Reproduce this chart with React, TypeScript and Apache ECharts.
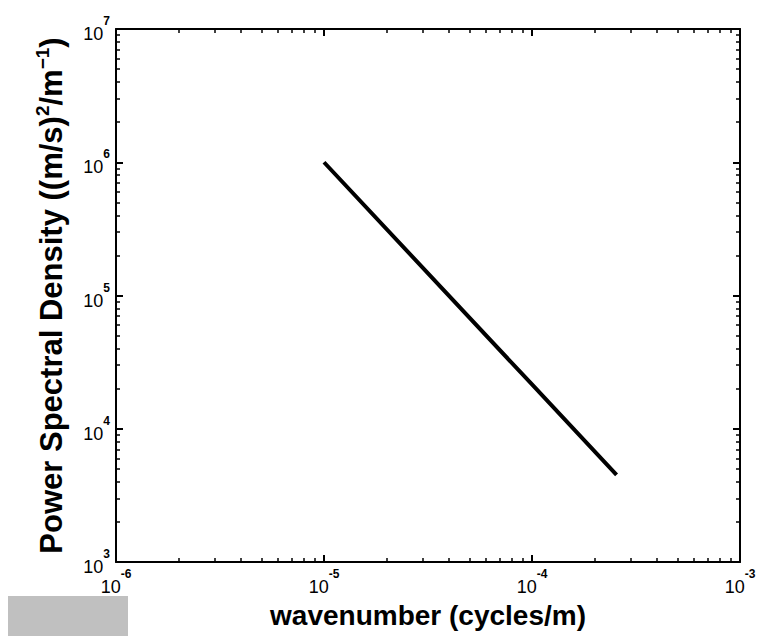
import React, { useEffect, useRef } from "react";
import * as echarts from "echarts";

// ---- data ----
const wavenumber = [1e-5, 1e-4, 2.55e-4];
const psd = [1.0e6, 2.15e4, 4.5e3];

const xMajorTicks = [1e-6, 1e-5, 1e-4, 1e-3];
const yMajorTicks = [1e3, 1e4, 1e5, 1e6, 1e7];
const minorMultipliers = [2, 3, 4, 5, 6, 7, 8, 9];

const xTitle = "wavenumber (cycles/m)";
const yTitle = "Power Spectral Density ((m/s){sup|2}/m{sup|−1})";

const FONT = "'Liberation Sans', Arial, Helvetica, sans-serif";

function minorsOf(majors: number[]) {
  const out: number[] = [];
  for (let i = 0; i < majors.length - 1; i++) {
    for (const m of minorMultipliers) out.push(Math.log10(majors[i] * m));
  }
  return out;
}

const labelFormatter = (v: number) => {
  const e = Math.round(Math.log10(v));
  return `{b|10}{e|${e < 0 ? "-" + Math.abs(e) : e}}`;
};
const labelRich = {
  b: { fontSize: 18, fontFamily: FONT, color: "#000", lineHeight: 28, verticalAlign: "bottom" },
  e: { fontSize: 12, fontFamily: FONT, color: "#000", lineHeight: 28, verticalAlign: "top", fontWeight: "bold" },
};

// axis that carries the data and the labels (log scale)
function dataAxis(position: string, majors: number[], extra: any = {}) {
  return {
    type: "log",
    position,
    min: majors[0],
    max: majors[majors.length - 1],
    logBase: 10,
    axisLine: { show: true, lineStyle: { color: "#000", width: 2 } },
    axisTick: { show: false },
    axisLabel: {
      show: true,
      fontSize: 18,
      fontFamily: FONT,
      color: "#000",
      formatter: labelFormatter,
      rich: labelRich,
      margin: 6,
    },
    splitLine: { show: false },
    ...extra,
  };
}

// tick-only axis in log10 units
function tickAxis(position: string, majors: number[], minor: boolean, showLine: boolean) {
  const lo = Math.log10(majors[0]);
  const hi = Math.log10(majors[majors.length - 1]);
  return {
    type: "value",
    position,
    min: lo,
    max: hi,
    axisLine: { show: showLine, lineStyle: { color: "#000", width: 2 } },
    axisTick: {
      show: true,
      inside: true,
      length: minor ? 4 : 7,
      customValues: minor ? minorsOf(majors) : majors.map((m) => Math.log10(m)),
      lineStyle: { color: "#000", width: minor ? 1.5 : 2 },
    },
    axisLabel: { show: false },
    splitLine: { show: false },
  };
}

export default function App() {
  const ref = useRef<HTMLDivElement>(null);
  useEffect(() => {
    if (!ref.current) return;
    const chart = echarts.init(ref.current, null, { renderer: "svg" });
    const option: any = {
      animation: false,
      backgroundColor: "#fff",
      grid: { left: 116, top: 29, right: 20, bottom: 75, containLabel: false },
      xAxis: [
        dataAxis("bottom", xMajorTicks, {
          name: xTitle,
          nameLocation: "middle",
          nameGap: 39,
          nameTextStyle: { fontFamily: FONT, fontWeight: "bold", fontSize: 28, color: "#000" },
        }),
        tickAxis("bottom", xMajorTicks, false, false),
        tickAxis("bottom", xMajorTicks, true, false),
        tickAxis("top", xMajorTicks, false, true),
        tickAxis("top", xMajorTicks, true, false),
      ],
      yAxis: [
        dataAxis("left", yMajorTicks, {
          name: yTitle,
          nameLocation: "middle",
          nameGap: 47,
          nameTextStyle: {
            fontFamily: FONT,
            fontWeight: "bold",
            fontSize: 31,
            color: "#000",
            rich: {
              sup: {
                fontFamily: FONT,
                fontWeight: "bold",
                fontSize: 19,
                color: "#000",
                verticalAlign: "top",
                lineHeight: 36,
              },
            },
          },
        }),
        tickAxis("left", yMajorTicks, false, false),
        tickAxis("left", yMajorTicks, true, false),
        tickAxis("right", yMajorTicks, false, true),
        tickAxis("right", yMajorTicks, true, false),
      ],
      series: [
        {
          type: "line",
          xAxisIndex: 0,
          yAxisIndex: 0,
          data: wavenumber.map((k, i) => [k, psd[i]]),
          showSymbol: false,
          symbol: "none",
          lineStyle: { color: "#000", width: 4 },
        },
      ],
      graphic: [
        {
          type: "rect",
          left: 8,
          top: 596,
          shape: { width: 120, height: 40 },
          style: { fill: "#c0c0c0" },
          z: -1,
        },
      ],
    };
    chart.setOption(option);
    return () => chart.dispose();
  }, []);
  return <div ref={ref} style={{ width: 760, height: 637, position: "absolute", left: 0, top: 0 }} />;
}
